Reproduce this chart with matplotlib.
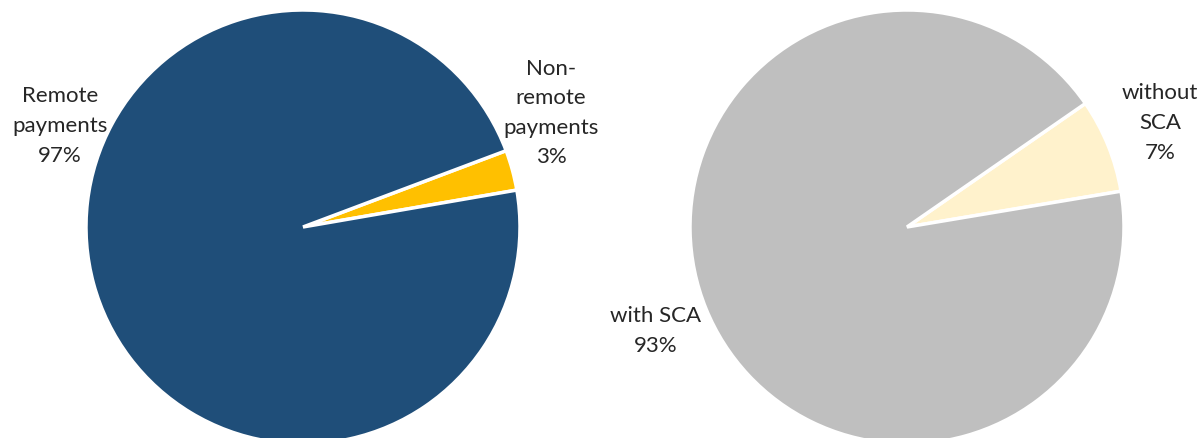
import matplotlib
matplotlib.use("Agg")
import matplotlib.pyplot as plt

left_labels = ["Non-\nremote\npayments\n3%", "Remote\npayments\n97%"]
left_values = [3, 97]
left_colors = ["#FFC000", "#1F4E79"]

right_labels = ["without\nSCA\n7%", "with SCA\n93%"]
right_values = [7, 93]
right_colors = ["#FFF2CC", "#BFBFBF"]

W, H = 1203, 439
fig = plt.figure(figsize=(W / 100, H / 100), dpi=100)
plt.rcParams['font.family'] = ['Lato', 'DejaVu Sans']

R = 217  # pixel radius
half = 270

def make_ax(cx, cy_top):
    cy = H - cy_top
    ax = fig.add_axes([(cx - half) / W, (cy - half) / H, 2 * half / W, 2 * half / H])
    return ax

def finish(ax):
    ax.set_xlim(-half / R, half / R)
    ax.set_ylim(-half / R, half / R)
    ax.set_aspect('equal')
    ax.axis('off')

axL = make_ax(303, 228)
axL.pie(left_values, colors=left_colors, startangle=9.8, counterclock=True,
        wedgeprops=dict(edgecolor='white', linewidth=2.5), radius=1.0, frame=True)
finish(axL)

axR = make_ax(907, 228)
axR.pie(right_values, colors=right_colors, startangle=9.5, counterclock=True,
        wedgeprops=dict(edgecolor='white', linewidth=2.5), radius=1.0, frame=True)
finish(axR)

def label(x, y, s):
    fig.text(x / W, 1 - y / H, s, ha='center', va='center', fontsize=16,
             color='#262626', linespacing=1.6)

label(60, 126, left_labels[1])
label(551, 113, left_labels[0])
label(1160, 123, right_labels[0])
label(656, 331, right_labels[1])

fig.savefig("out.png", dpi=100)
